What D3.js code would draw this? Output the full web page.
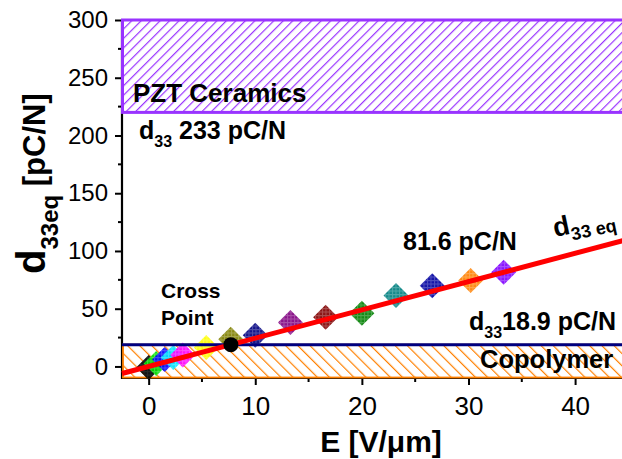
<!DOCTYPE html>
<html>
<head>
<meta charset="utf-8">
<script src="https://cdn.jsdelivr.net/npm/d3@7"></script>
<style>
  html, body { margin: 0; padding: 0; background: #fff; }
  svg { display: block; font-family: "Liberation Sans", Arial, Helvetica, sans-serif; }
</style>
</head>
<body>
<svg id="chart" width="622" height="459"></svg>
<script>
// Field E [V/um] and equivalent d33 [pC/N] of the measured samples
const fieldE = [0, 0.7, 1.5, 2.3, 3.2, 5.4, 7.7, 10, 13.3, 16.6, 20, 23.2, 26.6, 30.2, 33.3];
const d33eq  = [-1, 2.5, 6, 7.8, 10, 16.5, 23.5, 27, 38, 42.6, 46, 61.4, 69.8, 74.4, 81.6];
const markerColors = ["#000000", "#00e000", "#0000ff", "#00e5ff", "#ff00ff", "#ffff00",
  "#808000", "#000080", "#800080", "#800000", "#008000", "#008080", "#0000a0", "#ff8000", "#8000ff"];

// Reference bands and fit
const pztBand = [220, 300];        // PZT ceramics range
const copolymerD33 = 18.9;         // copolymer d33
const fitSlope = 2.45;             // linear fit d33eq = slope * E
const fitDomain = [-2.5, 45];

const xTicks = [0, 10, 20, 30, 40];
const xMinor = [5, 15, 25, 35];
const yTicks = [0, 50, 100, 150, 200, 250, 300];
const yMinor = [25, 75, 125, 175, 225, 275];

const svg = d3.select("#chart");
const x = d3.scaleLinear().domain([-2.5, 45]).range([122, 628.4]);
const y = d3.scaleLinear().domain([-10, 300]).range([378, 20]);

const defs = svg.append("defs");
function hatch(id, color, spacing, angle, width) {
  const p = defs.append("pattern").attr("id", id)
    .attr("patternUnits", "userSpaceOnUse")
    .attr("width", spacing).attr("height", 10)
    .attr("patternTransform", `rotate(${angle})`);
  p.append("line").attr("x1", 0.6).attr("x2", 0.6).attr("y1", 0).attr("y2", 10)
    .attr("stroke", color).attr("stroke-width", width);
}
hatch("hatchPZT", "#9933ff", 6.7, 45, 1.2);
hatch("hatchCopo", "#ff8000", 8.6, -45, 1.2);

markerColors.forEach((c, i) => {
  const p = defs.append("pattern").attr("id", "mk" + i)
    .attr("patternUnits", "userSpaceOnUse").attr("width", 3.5).attr("height", 3.5);
  p.append("rect").attr("width", 3.5).attr("height", 3.5).attr("fill", c);
  p.append("path").attr("d", "M0,0.5H3.5M0.5,0V3.5")
    .attr("stroke", c === "#000000" ? "#555" : "#fff").attr("stroke-opacity", 0.25).attr("stroke-width", 1);
});

// Axes
const axisColor = "#000";
const yAxis = d3.axisLeft(y).tickValues(yTicks).tickSize(7).tickPadding(7).tickFormat(d3.format("d"));
const gy = svg.append("g").attr("transform", `translate(${x.range()[0]},0)`).call(yAxis);
gy.selectAll(".tick text").attr("font-size", 24).attr("font-family", "Liberation Sans, Arial, sans-serif").attr("fill", "#000");
gy.selectAll(".tick line").attr("stroke-width", 2);
gy.select(".domain").remove();
gy.selectAll(".minor").data(yMinor).enter().append("line")
  .attr("x1", -4).attr("x2", 0).attr("y1", d => y(d)).attr("y2", d => y(d))
  .attr("stroke", axisColor).attr("stroke-width", 2);

const xAxis = d3.axisBottom(x).tickValues(xTicks).tickSize(7).tickFormat(d3.format("d"));
const gx = svg.append("g").attr("transform", `translate(0,${y.range()[0]})`).call(xAxis);
gx.selectAll(".tick text").attr("font-size", 26).attr("font-family", "Liberation Sans, Arial, sans-serif")
  .attr("fill", "#000").attr("y", 37).attr("dy", 0);
gx.selectAll(".tick line").attr("stroke-width", 2);
gx.select(".domain").remove();
gx.selectAll(".minor").data(xMinor).enter().append("line")
  .attr("x1", d => x(d)).attr("x2", d => x(d)).attr("y1", 0).attr("y2", 4)
  .attr("stroke", axisColor).attr("stroke-width", 2);

svg.append("line").attr("x1", x.range()[0]).attr("x2", x.range()[0])
  .attr("y1", y(300)).attr("y2", y.range()[0] + 1).attr("stroke", axisColor).attr("stroke-width", 2.2);
svg.append("line").attr("x1", x.range()[0] - 1).attr("x2", 622)
  .attr("y1", y.range()[0]).attr("y2", y.range()[0]).attr("stroke", axisColor).attr("stroke-width", 2.2);

// PZT band
svg.append("rect")
  .attr("x", x(fitDomain[0]) + 0.5).attr("y", y(pztBand[1]))
  .attr("width", x(45) - x(fitDomain[0])).attr("height", y(pztBand[0]) - y(pztBand[1]))
  .attr("fill", "url(#hatchPZT)").attr("stroke", "#9933ff").attr("stroke-width", 3);

// Copolymer band
svg.append("rect")
  .attr("x", x(fitDomain[0]) + 1).attr("y", y(copolymerD33))
  .attr("width", x(45) - x(fitDomain[0])).attr("height", y(-10) - y(copolymerD33) - 0.5)
  .attr("fill", "url(#hatchCopo)").attr("stroke", "#ff8000").attr("stroke-width", 1.8);

// Measured points (diamonds)
const half = 12.5;
svg.append("g").selectAll("path").data(fieldE.map((e, i) => ({ e, d: d33eq[i], i })))
  .enter().append("path")
  .attr("d", p => {
    const cx = x(p.e), cy = y(p.d);
    return `M${cx},${cy - half}L${cx + half},${cy}L${cx},${cy + half}L${cx - half},${cy}Z`;
  })
  .attr("fill", p => `url(#mk${p.i})`)
  .attr("opacity", 0.92);

// Copolymer d33 line
svg.append("line").attr("x1", x(fitDomain[0])).attr("x2", 622)
  .attr("y1", y(copolymerD33)).attr("y2", y(copolymerD33))
  .attr("stroke", "#000080").attr("stroke-width", 3);

// Linear fit
const line = d3.line().x(d => x(d)).y(d => y(fitSlope * d));
svg.append("path").datum(fitDomain).attr("d", line)
  .attr("fill", "none").attr("stroke", "#ff0000").attr("stroke-width", 5);

// Cross point
const crossE = copolymerD33 / fitSlope;
svg.append("circle").attr("cx", x(crossE)).attr("cy", y(copolymerD33)).attr("r", 7.5).attr("fill", "#000");

// Labels
const bold = (sel) => sel.attr("font-weight", "bold").attr("fill", "#000");

bold(svg.append("text").attr("x", 133).attr("y", 102).attr("font-size", 26)).text("PZT Ceramics");

const t233 = bold(svg.append("text").attr("x", 139).attr("y", 139).attr("font-size", 25));
t233.append("tspan").text("d");
t233.append("tspan").attr("font-size", 16).attr("dy", 8).text("33");
t233.append("tspan").attr("dy", -8).text(" 233 pC/N");

bold(svg.append("text").attr("x", 403).attr("y", 250).attr("font-size", 25)).text("81.6 pC/N");

const t189 = bold(svg.append("text").attr("x", 469).attr("y", 330).attr("font-size", 25));
t189.append("tspan").text("d");
t189.append("tspan").attr("font-size", 16).attr("dy", 8).text("33");
t189.append("tspan").attr("dy", -8).text("18.9 pC/N");

bold(svg.append("text").attr("x", 480).attr("y", 368).attr("font-size", 25.5)).text("Copolymer");

bold(svg.append("text").attr("x", 161).attr("y", 298).attr("font-size", 21)).text("Cross");
bold(svg.append("text").attr("x", 161).attr("y", 325).attr("font-size", 21)).text("Point");

const tEq = bold(svg.append("text").attr("transform", "translate(555,237) rotate(-12)").attr("font-size", 27));
tEq.append("tspan").text("d");
tEq.append("tspan").attr("font-size", 18).attr("dy", 7).text("33 eq");

// Axis titles
bold(svg.append("text").attr("x", 381).attr("y", 452).attr("text-anchor", "middle").attr("font-size", 30))
  .text("E [V/\u03bcm]");

const yt = bold(svg.append("text").attr("transform", "translate(45,274) rotate(-90)").attr("font-size", 40));
yt.append("tspan").text("d");
yt.append("tspan").attr("font-size", 24).attr("dy", 13).text("33eq");
yt.append("tspan").attr("font-size", 31).attr("dy", -13).text(" [pC/N]");
</script>
</body>
</html>
